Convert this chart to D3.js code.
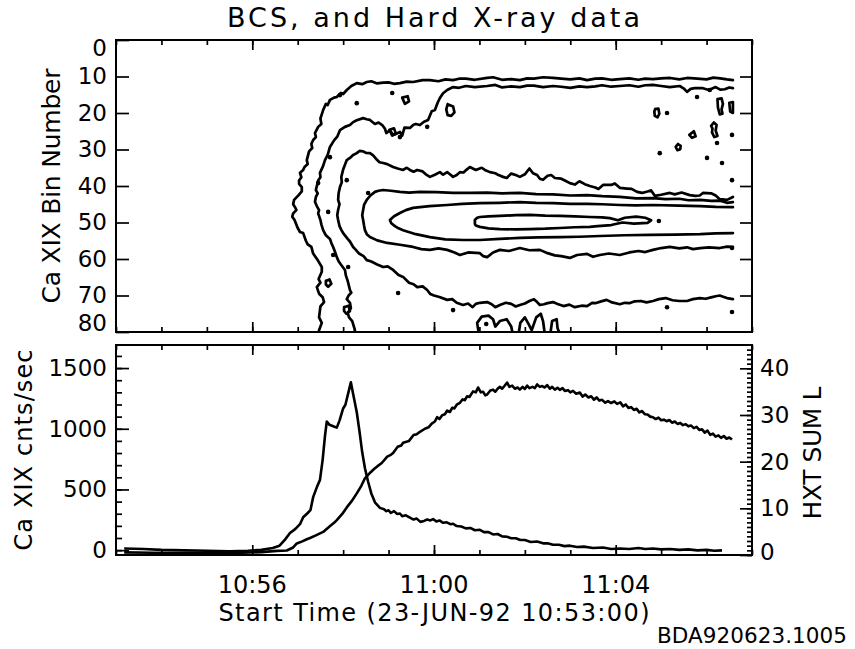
<!DOCTYPE html>
<html>
<head>
<meta charset="utf-8">
<script src="https://cdn.jsdelivr.net/npm/d3@7"></script>
<style>
html, body { margin: 0; padding: 0; background: #fff; }
svg { display: block; }
text { font-family: "DejaVu Sans", sans-serif; fill: #000; }
</style>
</head>
<body>
<svg id="chart" width="855" height="649"></svg>
<script>
// ---------------- data ----------------
// time axis: minutes after the start time 10:53:00
const startTime = new Date(1992, 5, 23, 10, 53, 0);
const endMinute = 14;
const binTicks = [0, 10, 20, 30, 40, 50, 60, 70, 80];
const countTicks = [0, 500, 1000, 1500];
const hxtTicks = [0, 10, 20, 30, 40];

// Ca XIX light curve [minute, cnts/sec]
const caCurve = [
  [0.18,-18],[0.8,-22],[1.5,-24],[2.2,-25],[2.8,-22],[3.2,-16],[3.54,-6],[3.76,-3],[3.90,22],[3.98,55],
  [4.10,72],[4.20,90],[4.27,100],[4.40,122],[4.56,150],[4.70,195],[4.80,225],[4.86,248],[4.98,298],[5.08,352],
  [5.20,410],[5.30,468],[5.40,530],[5.48,592],[5.60,640],[5.68,668],[5.75,690],[5.85,718],[5.97,770],[6.05,785],
  [6.10,800],[6.20,852],[6.28,862],[6.32,885],[6.45,900],[6.55,948],[6.62,955],[6.69,975],[6.80,1000],[6.88,1012],
  [6.95,1042],[7.02,1060],[7.07,1095],[7.12,1080],[7.18,1112],[7.24,1120],[7.29,1150],[7.35,1138],[7.40,1172],[7.45,1168],
  [7.50,1198],[7.57,1214],[7.63,1242],[7.68,1235],[7.73,1268],[7.78,1262],[7.86,1308],[7.92,1300],[7.97,1340],[8.03,1300],
  [8.08,1305],[8.13,1275],[8.17,1282],[8.24,1315],[8.30,1322],[8.35,1305],[8.40,1330],[8.45,1345],[8.50,1330],[8.55,1352],
  [8.61,1380],[8.66,1345],[8.72,1355],[8.78,1330],[8.84,1340],[8.89,1322],[8.95,1345],[9.00,1328],[9.05,1355],[9.10,1335],
  [9.17,1345],[9.22,1335],[9.27,1365],[9.33,1345],[9.38,1352],[9.44,1340],[9.49,1360],[9.55,1330],[9.60,1345],[9.66,1322],
  [9.72,1338],[9.77,1320],[9.83,1335],[9.88,1312],[9.95,1318],[10.00,1300],[10.06,1312],[10.13,1288],[10.21,1298],[10.27,1265],
  [10.33,1282],[10.40,1258],[10.46,1268],[10.52,1240],[10.58,1258],[10.64,1232],[10.70,1238],[10.77,1215],[10.83,1228],[10.90,1212],
  [10.97,1225],[11.03,1205],[11.10,1218],[11.16,1185],[11.22,1200],[11.28,1172],[11.34,1178],[11.40,1155],[11.46,1165],[11.52,1135],
  [11.58,1146],[11.64,1120],[11.70,1118],[11.76,1100],[11.82,1095],[11.88,1080],[11.94,1092],[12.00,1070],[12.06,1075],[12.12,1062],
  [12.18,1072],[12.24,1050],[12.30,1060],[12.36,1040],[12.42,1048],[12.48,1030],[12.54,1038],[12.60,1020],[12.66,1026],[12.72,1005],
  [12.78,1015],[12.84,990],[12.90,995],[12.96,968],[13.02,985],[13.08,950],[13.14,960],[13.20,935],[13.26,945],[13.32,925],
  [13.38,940],[13.44,918],[13.50,928],[13.56,912]
];

// HXT SUM L light curve [minute, counts]
const hxtCurve = [
  [0.18,1.4],[0.6,1.3],[1.0,1.1],[1.5,1.0],[2.0,0.9],[2.5,0.8],[2.9,0.9],[3.2,1.1],[3.45,1.5],[3.6,2.0],
  [3.72,3.3],[3.83,4.7],[3.95,5.6],[4.05,6.6],[4.12,8.1],[4.22,9.0],[4.28,9.6],[4.34,12.4],[4.42,14.5],[4.49,16.1],
  [4.55,20.5],[4.60,25.5],[4.64,28.6],[4.70,27.9],[4.78,27.6],[4.86,27.3],[4.92,28.8],[5.00,31.4],[5.05,32.2],[5.12,35.0],
  [5.17,37.0],[5.22,34.5],[5.30,30.6],[5.36,26.5],[5.42,22.0],[5.48,18.6],[5.55,15.7],[5.62,13.2],[5.70,11.3],[5.81,10.1],
  [5.90,9.8],[5.95,9.4],[6.00,9.6],[6.05,9.0],[6.12,9.4],[6.19,8.8],[6.25,8.9],[6.30,8.3],[6.38,8.5],[6.45,8.1],
  [6.55,7.6],[6.62,7.8],[6.70,7.1],[6.78,7.3],[6.85,7.6],[6.92,7.4],[6.98,7.7],[7.05,7.2],[7.12,7.4],[7.20,6.9],
  [7.28,7.0],[7.36,6.6],[7.42,6.7],[7.50,6.2],[7.60,6.1],[7.70,5.7],[7.80,5.8],[7.90,5.3],[8.01,5.4],[8.10,4.9],
  [8.20,4.9],[8.30,4.4],[8.40,4.5],[8.50,4.0],[8.61,3.9],[8.70,3.6],[8.80,3.6],[8.90,3.2],[9.00,3.2],[9.13,2.8],
  [9.27,2.9],[9.40,2.5],[9.50,2.5],[9.62,2.2],[9.75,2.2],[9.87,1.9],[9.99,2.0],[10.15,1.7],[10.30,1.8],[10.50,1.5],
  [10.72,1.6],[10.90,1.3],[11.10,1.4],[11.30,1.3],[11.50,1.5],[11.65,1.3],[11.82,1.4],[12.00,1.2],[12.20,1.3],[12.40,1.1],
  [12.60,1.2],[12.80,1.0],[13.00,1.1],[13.17,0.9],[13.34,1.0]
];

// Ca XIX spectral contours, [minute, bin number], outermost level first
const contourLevel1 = [
  [4.45,81.5],[4.47,79.5],[4.53,77.5],[4.47,76.0],[4.50,73.0],[4.58,71.8],[4.55,70.5],[4.47,69.5],[4.42,67.7],[4.50,66.5],
  [4.46,65.5],[4.53,63.5],[4.53,62.2],[4.45,60.5],[4.40,59.6],[4.34,58.5],[4.30,56.7],[4.22,56.0],[4.18,55.0],[4.12,52.9],
  [4.05,52.6],[4.00,51.5],[3.93,49.3],[3.88,48.4],[3.90,47.5],[3.97,46.6],[3.95,46.0],[3.90,45.0],[3.92,43.8],[4.02,42.5],
  [4.09,41.5],[4.09,40.3],[4.03,39.4],[4.03,38.5],[4.08,37.6],[4.05,36.4],[4.12,35.6],[4.15,34.8],[4.22,34.0],[4.20,32.9],
  [4.25,30.5],[4.32,29.6],[4.30,28.5],[4.34,27.4],[4.40,26.6],[4.38,25.5],[4.45,23.8],[4.52,23.0],[4.50,21.5],[4.56,19.2],
  [4.62,17.5],[4.66,17.8],[4.71,16.4],[4.80,15.8],[4.86,15.6],[4.95,14.5],[5.00,14.8],[5.08,13.7],[5.18,12.6],[5.30,11.8],
  [5.42,12.1],[5.52,11.5],[5.62,11.3],[5.75,11.9],[5.88,11.7],[6.00,11.6],[6.12,12.0],[6.25,11.8],[6.40,11.4],[6.54,11.5],
  [6.75,11.0],[6.91,11.0],[7.10,11.3],[7.25,10.8],[7.42,11.0],[7.55,10.6],[7.70,10.6],[7.90,10.9],[8.17,10.4],[8.30,10.2],
  [8.50,10.9],[8.70,10.7],[8.89,11.0],[9.05,10.5],[9.20,10.6],[9.40,10.2],[9.62,10.4],[9.80,10.6],[10.00,10.8],[10.20,10.5],
  [10.37,11.0],[10.55,10.6],[10.70,10.5],[10.90,10.9],[11.09,10.7],[11.30,10.5],[11.50,10.9],[11.65,10.6],[11.82,10.7],[12.00,10.5],
  [12.20,10.4],[12.40,10.8],[12.57,10.4],[12.80,10.6],[13.00,10.8],[13.15,10.3],[13.30,10.5],[13.45,10.8],[13.58,11.0]
];
const contourLevel2 = [
  [5.19,81.5],[5.26,79.5],[5.20,77.0],[5.13,76.0],[5.10,74.8],[5.17,73.5],[5.15,72.0],[5.08,71.0],[5.12,70.0],[5.18,69.2],
  [5.15,68.5],[5.10,66.0],[5.06,64.5],[5.04,63.0],[4.95,61.5],[4.90,60.6],[4.86,59.5],[4.82,58.0],[4.78,56.7],[4.74,55.6],
  [4.71,54.5],[4.62,53.5],[4.56,52.1],[4.52,50.5],[4.50,49.3],[4.45,47.5],[4.47,46.6],[4.42,45.5],[4.38,44.3],[4.40,43.0],
  [4.44,42.0],[4.40,41.1],[4.45,38.5],[4.50,37.6],[4.49,36.4],[4.56,34.5],[4.60,32.9],[4.66,31.5],[4.71,29.3],[4.80,27.5],
  [4.87,26.5],[4.93,24.7],[5.04,23.8],[5.15,23.3],[5.22,22.5],[5.30,22.0],[5.44,21.4],[5.52,21.7],[5.59,21.9],[5.70,23.0],
  [5.78,22.6],[5.86,23.3],[5.92,24.3],[5.95,25.5],[6.03,24.7],[6.10,26.0],[6.15,25.8],[6.25,25.2],[6.30,26.2],[6.35,24.0],
  [6.47,24.1],[6.55,23.2],[6.60,23.0],[6.69,23.3],[6.78,22.4],[6.87,21.9],[6.95,19.5],[7.02,19.2],[7.08,17.2],[7.13,15.9],
  [7.20,14.6],[7.29,13.7],[7.42,12.9],[7.55,13.1],[7.70,12.6],[7.90,12.9],[8.17,12.6],[8.35,12.3],[8.50,13.0],[8.70,12.7],
  [8.89,12.9],[9.05,12.5],[9.20,12.5],[9.40,12.9],[9.62,12.6],[9.80,12.8],[10.00,13.1],[10.20,12.7],[10.37,12.9],[10.55,12.7],
  [10.70,12.4],[10.90,12.8],[11.09,12.6],[11.30,12.4],[11.50,12.8],[11.65,12.4],[11.82,12.3],[12.00,12.6],[12.19,12.9],[12.41,12.6],
  [12.50,13.3],[12.57,14.2],[12.65,13.4],[12.74,13.2],[12.92,13.2],[13.05,13.7],[13.20,12.9],[13.30,13.6],[13.40,13.5],[13.50,13.0],
  [13.58,13.2]
];
const contourLevel3 = [
  [13.58,43.0],[13.45,43.8],[13.29,43.6],[13.20,42.6],[13.10,42.0],[12.92,41.9],[12.85,42.6],[12.75,42.7],[12.63,42.5],[12.45,41.8],
  [12.30,42.3],[12.19,41.9],[12.00,42.4],[11.86,42.7],[11.78,41.2],[11.70,41.5],[11.58,41.9],[11.47,41.6],[11.35,40.8],[11.25,40.7],
  [11.09,40.5],[10.98,39.3],[10.90,39.7],[10.72,39.7],[10.62,40.8],[10.55,40.4],[10.43,40.0],[10.32,39.5],[10.20,38.7],[10.10,39.6],
  [9.99,39.2],[9.88,38.5],[9.80,38.0],[9.66,37.8],[9.58,37.0],[9.50,37.2],[9.40,38.3],[9.33,38.0],[9.27,37.0],[9.18,36.5],
  [9.10,35.2],[9.00,36.8],[8.89,37.5],[8.80,37.0],[8.70,36.6],[8.60,37.8],[8.52,37.5],[8.42,37.0],[8.35,36.5],[8.23,36.2],
  [8.12,35.6],[8.05,35.0],[7.92,35.6],[7.79,34.8],[7.72,35.5],[7.65,36.3],[7.57,36.2],[7.50,37.0],[7.42,37.5],[7.35,36.8],
  [7.29,36.2],[7.20,36.9],[7.13,36.2],[7.02,36.9],[6.91,37.5],[6.82,36.8],[6.75,36.0],[6.63,35.6],[6.55,36.1],[6.47,35.6],
  [6.40,35.0],[6.32,35.6],[6.20,35.2],[6.10,34.8],[5.97,34.0],[5.88,33.7],[5.80,33.5],[5.75,32.9],[5.66,31.6],[5.59,31.0],
  [5.50,30.9],[5.44,30.5],[5.36,30.4],[5.30,31.0],[5.22,31.5],[5.15,32.3],[5.08,32.9],[5.04,34.2],[5.00,35.5],[4.96,37.5],
  [4.97,39.0],[4.93,40.3],[4.90,42.0],[4.89,43.8],[4.92,45.0],[4.89,46.5],[4.87,48.0],[4.89,49.3],[4.92,51.0],[4.96,52.0],
  [5.00,52.9],[5.10,54.5],[5.15,55.2],[5.22,56.7],[5.28,57.5],[5.35,58.5],[5.45,59.2],[5.52,60.3],[5.62,60.7],[5.75,61.5],
  [5.88,62.2],[5.98,62.0],[6.10,63.0],[6.22,64.4],[6.32,64.9],[6.45,66.5],[6.55,66.9],[6.63,67.7],[6.75,67.5],[6.85,68.5],
  [6.92,69.6],[7.00,70.0],[7.12,70.4],[7.29,71.2],[7.40,71.0],[7.50,72.0],[7.64,72.6],[7.75,72.2],[7.85,73.2],[7.92,72.3],
  [8.01,72.0],[8.17,71.8],[8.27,72.4],[8.35,73.2],[8.45,72.6],[8.58,72.0],[8.70,72.3],[8.80,73.0],[8.89,72.6],[9.00,72.2],
  [9.10,71.5],[9.20,71.0],[9.27,71.8],[9.33,72.6],[9.42,72.4],[9.50,72.1],[9.62,71.8],[9.72,72.3],[9.85,72.9],[9.98,72.5],
  [10.10,73.2],[10.25,72.8],[10.37,72.9],[10.48,72.0],[10.55,72.1],[10.68,71.6],[10.80,71.2],[10.92,71.9],[11.09,72.4],[11.20,72.0],
  [11.30,72.1],[11.42,71.6],[11.55,71.5],[11.68,71.9],[11.82,71.5],[11.95,71.0],[12.10,70.7],[12.25,71.3],[12.40,71.5],[12.57,71.5],
  [12.70,71.0],[12.85,70.7],[12.98,70.9],[13.10,70.5],[13.20,70.2],[13.29,70.0],[13.38,70.4],[13.45,70.7],[13.58,71.0]
];
const contourLevel4 = [
  [13.58,44.4],[13.45,44.6],[13.30,44.0],[13.10,44.1],[12.86,43.8],[12.60,43.9],[12.40,43.5],[12.10,43.6],[11.82,43.3],[11.45,43.4],
  [11.09,43.0],[10.70,42.8],[10.37,42.5],[10.00,42.6],[9.62,42.3],[9.25,42.2],[8.89,41.9],[8.50,42.0],[8.17,41.8],[7.80,41.9],
  [7.42,41.9],[7.05,41.7],[6.69,41.6],[6.45,41.8],[6.25,41.6],[6.05,41.3],[5.88,41.1],[5.78,41.3],[5.70,41.6],[5.60,42.6],
  [5.52,43.8],[5.46,45.2],[5.44,46.6],[5.42,48.0],[5.44,49.3],[5.46,50.8],[5.48,52.1],[5.52,53.2],[5.59,54.0],[5.75,54.9],
  [5.97,55.6],[6.25,56.1],[6.54,56.7],[6.72,57.3],[6.91,57.5],[7.10,57.1],[7.29,57.5],[7.45,58.2],[7.57,58.9],[7.75,58.2],
  [8.01,58.4],[8.08,59.2],[8.17,59.5],[8.30,58.2],[8.45,57.5],[8.65,57.8],[8.89,57.0],[9.10,57.6],[9.33,57.5],[9.50,58.4],
  [9.66,59.0],[9.80,59.2],[9.99,59.7],[10.15,58.9],[10.37,58.6],[10.50,59.4],[10.65,58.9],[10.85,58.5],[11.09,58.9],[11.30,58.2],
  [11.50,57.8],[11.65,58.1],[11.82,57.5],[12.00,57.0],[12.19,56.7],[12.40,57.1],[12.57,56.8],[12.70,57.3],[12.86,57.0],[13.05,56.8],
  [13.29,57.0],[13.45,56.6],[13.58,56.7]
];
const contourLevel5 = [
  [13.58,45.8],[13.20,45.7],[12.86,45.5],[12.40,45.4],[11.82,45.2],[11.45,45.3],[11.09,45.2],[10.70,45.0],[10.37,44.9],[10.00,44.9],
  [9.62,44.7],[9.25,44.6],[8.89,44.4],[8.45,44.6],[8.01,44.7],[7.62,44.9],[7.29,45.2],[6.90,45.5],[6.54,46.0],[6.38,46.6],
  [6.25,47.4],[6.12,48.3],[6.03,49.3],[6.06,50.2],[6.14,51.0],[6.22,51.6],[6.32,52.1],[6.60,53.2],[6.91,54.0],[7.25,54.6],
  [7.64,54.8],[8.01,54.8],[8.45,54.5],[8.89,54.2],[9.30,54.1],[9.77,54.0],[10.20,53.9],[10.65,53.7],[11.20,53.5],[11.75,53.4],
  [12.30,53.3],[12.86,53.2],[13.20,53.0],[13.58,52.9]
];
const contourLevel6 = [
  [7.90,49.3],[7.95,48.7],[8.01,48.5],[8.20,48.3],[8.45,48.2],[8.80,48.0],[9.11,47.9],[9.45,48.1],[9.77,48.2],[10.10,48.3],
  [10.43,48.5],[10.70,48.6],[10.87,48.8],[11.05,49.4],[11.20,48.7],[11.45,48.4],[11.65,48.7],[11.78,49.4],[11.70,50.1],[11.40,50.3],
  [11.15,50.0],[10.90,50.7],[10.60,51.0],[10.43,51.2],[10.10,51.3],[9.77,51.5],[9.45,51.7],[9.11,51.8],[8.80,51.9],[8.45,51.8],
  [8.20,51.6],[8.01,51.2],[7.92,50.8],[7.90,50.4],[7.90,49.3]
];

// small closed contour islands, [minute, bin number]
const contourIslands = [
  [[7.30,17.6],[7.42,18.2],[7.45,19.8],[7.38,20.8],[7.30,20.6],[7.27,19.0],[7.30,17.6]],
  [[11.87,18.9],[11.94,18.8],[11.96,20.2],[11.92,21.2],[11.86,20.8],[11.85,19.6],[11.87,18.9]],
  [[13.24,16.2],[13.33,16.0],[13.36,17.5],[13.33,19.0],[13.35,20.2],[13.29,20.4],[13.25,18.5],[13.24,16.2]],
  [[13.50,17.2],[13.58,17.0],[13.58,20.0],[13.52,19.6],[13.50,17.2]],
  [[13.10,23.5],[13.16,22.6],[13.22,23.3],[13.20,24.8],[13.24,26.3],[13.17,26.6],[13.12,25.3],[13.13,24.3],[13.10,23.5]],
  [[12.62,26.0],[12.72,25.0],[12.76,26.4],[12.68,26.8],[12.62,26.0]],
  [[12.32,29.3],[12.37,28.5],[12.43,29.0],[12.42,29.9],[12.36,30.2],[12.32,29.3]],
  [[4.62,66.0],[4.70,65.6],[4.74,66.8],[4.67,67.6],[4.62,67.0],[4.62,66.0]],
  [[5.02,73.2],[5.12,72.8],[5.15,74.3],[5.07,75.0],[5.02,74.2],[5.02,73.2]],
  [[6.30,15.8],[6.42,15.4],[6.45,16.8],[6.36,17.5],[6.30,15.8]],
  [[6.02,24.6],[6.12,24.2],[6.16,25.6],[6.08,26.2],[6.02,24.6]],
  [[8.00,81.5],[7.95,77.5],[8.05,75.8],[8.20,75.5],[8.30,76.5],[8.35,78.5],[8.45,77.0],[8.60,76.5],[8.70,78.5],[8.75,81.5]],
  [[8.85,81.5],[8.90,77.5],[9.00,76.0],[9.08,77.8],[9.15,79.5],[9.25,76.0],[9.35,75.0],[9.40,77.0],[9.45,81.5]],
  [[9.55,81.5],[9.60,77.0],[9.70,76.5],[9.72,79.0],[9.80,81.5]]
];

// single-cell contour spots, [minute, bin number]
const contourSpots = [
  [12.13,20.0],[12.79,15.6],[13.07,13.7],[11.97,31.0],[13.01,32.3],[13.34,33.7],[13.23,28.2],[13.56,26.0],
  [13.56,38.4],[13.56,57.0],[13.56,74.5],[7.42,74.0],[12.13,73.2],[4.93,15.1],[5.30,17.3],[5.08,38.4],
  [4.45,39.2],[4.71,32.1],[4.67,47.1],[4.78,58.9],[5.11,62.2],[5.55,41.9],[6.21,69.3],[6.08,14.5],
  [6.85,23.8],[6.25,26.6],[11.95,49.6],[8.15,77.8]
];

// ---------------- layout ----------------
const svg = d3.select("#chart");
const plotLeft = 116, plotRight = 752;
const topPanel = { top: 40, bottom: 332 };
const lowPanel = { top: 345, bottom: 555 };

const toDate = m => new Date(startTime.getTime() + m * 60000);
const endTime = toDate(endMinute);

const x = d3.scaleTime().domain([startTime, endTime]).range([plotLeft, plotRight]);
const yBin = d3.scaleLinear().domain([0, 80]).range([topPanel.top, topPanel.bottom]);
const yCa = d3.scaleLinear().domain([-40, 1690]).range([lowPanel.bottom, lowPanel.top]);
const yHxt = d3.scaleLinear().domain([0, 45]).range([lowPanel.bottom, lowPanel.top]);

const defs = svg.append("defs");
defs.append("clipPath").attr("id", "clipTop").append("rect")
  .attr("x", plotLeft).attr("y", topPanel.top)
  .attr("width", plotRight - plotLeft).attr("height", topPanel.bottom - topPanel.top);
defs.append("clipPath").attr("id", "clipLow").append("rect")
  .attr("x", plotLeft).attr("y", lowPanel.top)
  .attr("width", plotRight - plotLeft).attr("height", lowPanel.bottom - lowPanel.top);

function styleAxis(g, size) {
  g.select(".domain").remove();
  g.attr("font-family", null).attr("font-size", size);
  g.selectAll("line").attr("stroke", "#000").attr("stroke-width", 1.7);
  g.selectAll("text").attr("fill", "#000");
}

function timeTicks(panel) {
  const minor = d3.timeMinute.every(1), major = d3.timeMinute.every(4);
  svg.append("g").attr("transform", `translate(0,${panel.bottom})`)
    .call(d3.axisBottom(x).ticks(minor).tickSize(-5).tickFormat(""))
    .call(g => styleAxis(g, 10));
  svg.append("g").attr("transform", `translate(0,${panel.bottom})`)
    .call(d3.axisBottom(x).ticks(major).tickSize(-10).tickFormat(""))
    .call(g => styleAxis(g, 10));
  svg.append("g").attr("transform", `translate(0,${panel.top})`)
    .call(d3.axisTop(x).ticks(minor).tickSize(-5).tickFormat(""))
    .call(g => styleAxis(g, 10));
  svg.append("g").attr("transform", `translate(0,${panel.top})`)
    .call(d3.axisTop(x).ticks(major).tickSize(-10).tickFormat(""))
    .call(g => styleAxis(g, 10));
}

function frame(panel) {
  svg.append("rect")
    .attr("x", plotLeft).attr("y", panel.top)
    .attr("width", plotRight - plotLeft).attr("height", panel.bottom - panel.top)
    .attr("fill", "none").attr("stroke", "#000").attr("stroke-width", 2);
}

// ---------------- top panel: spectral contours ----------------
const contourLine = d3.line()
  .x(d => x(toDate(d[0])))
  .y(d => yBin(d[1]));

const cg = svg.append("g").attr("clip-path", "url(#clipTop)")
  .attr("fill", "none").attr("stroke", "#000")
  .attr("stroke-width", 2.7).attr("stroke-linejoin", "round").attr("stroke-linecap", "round");

[contourLevel1, contourLevel2, contourLevel3, contourLevel4, contourLevel5, contourLevel6]
  .forEach(level => cg.append("path").attr("d", contourLine(level)));
contourIslands.forEach(island => cg.append("path").attr("d", contourLine(island)));
cg.selectAll("circle").data(contourSpots).join("circle")
  .attr("cx", d => x(toDate(d[0]))).attr("cy", d => yBin(d[1]))
  .attr("r", 2.3).attr("fill", "#000").attr("stroke", "none");

timeTicks(topPanel);
svg.append("g").attr("transform", `translate(${plotLeft},0)`)
  .call(d3.axisLeft(yBin).tickValues(binTicks).tickSize(-13).tickPadding(9))
  .call(g => styleAxis(g, 23))
  .call(g => {
    // keep the end labels inside the panel height
    g.selectAll(".tick text").filter(d => d === 0).attr("transform", "translate(0,8)");
    g.selectAll(".tick text").filter(d => d === 80).attr("transform", "translate(0,-9)");
  });
svg.append("g").attr("transform", `translate(${plotRight},0)`)
  .call(d3.axisRight(yBin).tickValues(binTicks.slice(1, -1)).tickSize(-12).tickFormat(""))
  .call(g => styleAxis(g, 10));
frame(topPanel);

// ---------------- lower panel: light curves ----------------
const caLine = d3.line().x(d => x(toDate(d[0]))).y(d => yCa(d[1]));
const hxtLine = d3.line().x(d => x(toDate(d[0]))).y(d => yHxt(d[1]));

const lg = svg.append("g").attr("clip-path", "url(#clipLow)")
  .attr("fill", "none").attr("stroke", "#000")
  .attr("stroke-width", 2.6).attr("stroke-linejoin", "round");
lg.append("path").attr("d", caLine(caCurve));
lg.append("path").attr("d", hxtLine(hxtCurve));

timeTicks(lowPanel);
svg.append("g").attr("transform", `translate(${plotLeft},0)`)
  .call(d3.axisLeft(yCa).tickValues(d3.range(0, 1700, 100)).tickSize(-6).tickFormat(""))
  .call(g => styleAxis(g, 10));
svg.append("g").attr("transform", `translate(${plotLeft},0)`)
  .call(d3.axisLeft(yCa).tickValues(countTicks).tickSize(-13).tickPadding(9).tickFormat(d3.format("d")))
  .call(g => styleAxis(g, 23));
svg.append("g").attr("transform", `translate(${plotRight},0)`)
  .call(d3.axisRight(yHxt).tickValues(d3.range(0, 45, 1)).tickSize(-5).tickFormat(""))
  .call(g => styleAxis(g, 10));
svg.append("g").attr("transform", `translate(${plotRight},0)`)
  .call(d3.axisRight(yHxt).tickValues(hxtTicks).tickSize(-12).tickPadding(8).tickFormat(d3.format("d")))
  .call(g => styleAxis(g, 23))
  .call(g => g.selectAll(".tick text").filter(d => d === 0).attr("transform", "translate(0,-3)"));
frame(lowPanel);

// time labels under the lower panel
const fmt = d3.timeFormat("%H:%M");
svg.append("g").selectAll("text")
  .data(x.ticks(d3.timeMinute.every(4)))
  .join("text")
  .attr("x", d => x(d)).attr("y", 593)
  .attr("text-anchor", "middle").attr("font-size", 24)
  .text(d => fmt(d));

// ---------------- titles ----------------
svg.append("text").attr("x", 433.5).attr("y", 27)
  .attr("text-anchor", "middle").attr("font-size", 27)
  .attr("textLength", 413).attr("lengthAdjust", "spacing")
  .text("BCS, and Hard X-ray data");

svg.append("text").attr("transform", "translate(60,186) rotate(-90)")
  .attr("text-anchor", "middle").attr("font-size", 25)
  .attr("textLength", 235).attr("lengthAdjust", "spacing")
  .text("Ca XIX Bin Number");

svg.append("text").attr("transform", "translate(32,450) rotate(-90)")
  .attr("text-anchor", "middle").attr("font-size", 24)
  .attr("textLength", 201).attr("lengthAdjust", "spacing")
  .text("Ca XIX cnts/sec");

svg.append("text").attr("transform", "translate(821,453) rotate(-90)")
  .attr("text-anchor", "middle").attr("font-size", 25)
  .attr("textLength", 133).attr("lengthAdjust", "spacing")
  .text("HXT SUM L");

svg.append("text").attr("x", 434).attr("y", 621)
  .attr("text-anchor", "middle").attr("font-size", 24)
  .attr("textLength", 431).attr("lengthAdjust", "spacing")
  .text("Start Time (23-JUN-92 10:53:00)");

svg.append("text").attr("x", 657).attr("y", 643)
  .attr("font-size", 21.5)
  .attr("textLength", 190).attr("lengthAdjust", "spacing")
  .text("BDA920623.1005");
</script>
</body>
</html>
